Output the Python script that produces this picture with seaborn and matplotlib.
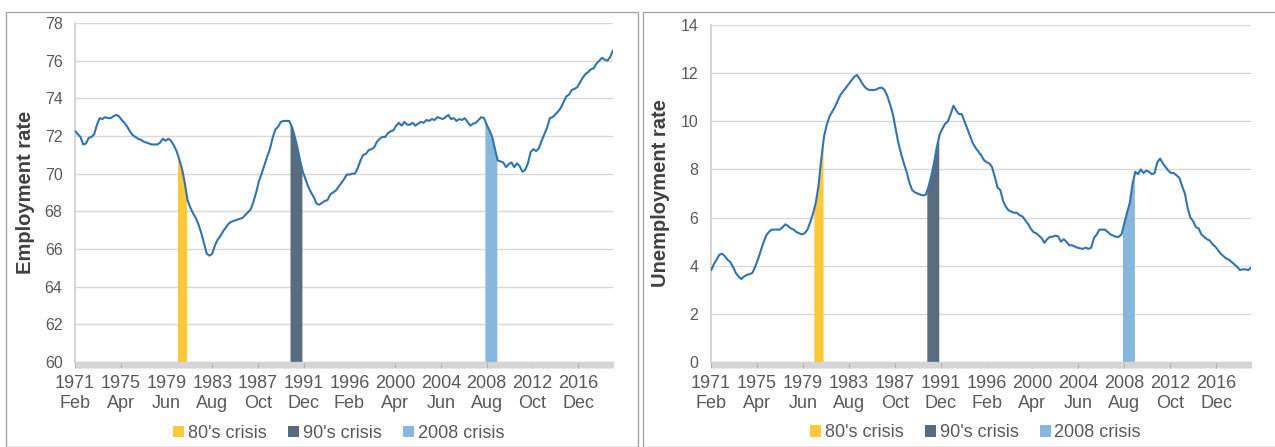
import numpy as np
import pandas as pd
import matplotlib
matplotlib.use('Agg')
import matplotlib.pyplot as plt
from matplotlib.patches import Patch, Rectangle
import seaborn as sns

# quarterly readings (every 3 months starting 1971 Feb)
employment = [
    72.28, 72.1, 71.95, 71.55, 71.6, 71.9, 71.95, 72.1, 72.6, 72.95,
    72.9, 73.0, 72.95, 72.95, 73.05, 73.12, 73.05, 72.85, 72.7, 72.5,
    72.25, 72.05, 71.95, 71.85, 71.8, 71.7, 71.65, 71.6, 71.55, 71.55,
    71.55, 71.65, 71.85, 71.75, 71.85, 71.75, 71.5, 71.2, 70.75, 70.25,
    69.5, 68.6, 68.2, 67.9, 67.65, 67.3, 66.85, 66.3, 65.75, 65.65,
    65.75, 66.2, 66.5, 66.7, 66.95, 67.15, 67.35, 67.45, 67.5, 67.55,
    67.6, 67.65, 67.8, 67.95, 68.1, 68.5, 69.0, 69.6, 70.0, 70.45,
    70.9, 71.3, 71.9, 72.35, 72.5, 72.75, 72.8, 72.8, 72.8, 72.5,
    72.0, 71.4, 70.7, 70.1, 69.7, 69.3, 69.0, 68.75, 68.4, 68.35,
    68.45, 68.55, 68.6, 68.9, 69.0, 69.1, 69.3, 69.5, 69.7, 69.95,
    69.95, 70.0, 70.0, 70.3, 70.7, 71.0, 71.05, 71.25, 71.3, 71.4,
    71.7, 71.85, 71.95, 71.95, 72.15, 72.25, 72.3, 72.55, 72.7, 72.55,
    72.75, 72.6, 72.6, 72.7, 72.55, 72.65, 72.75, 72.7, 72.85, 72.8,
    72.9, 72.85, 73.0, 72.95, 72.9, 73.0, 73.12, 72.9, 72.95, 72.8,
    72.9, 72.85, 72.95, 72.75, 72.55, 72.65, 72.7, 72.85, 73.0, 72.95,
    72.6, 72.3, 71.95, 71.3, 70.7, 70.65, 70.6, 70.35, 70.5, 70.6,
    70.35, 70.55, 70.4, 70.1, 70.2, 70.55, 71.15, 71.3, 71.2, 71.35,
    71.75, 72.1, 72.45, 72.95, 73.0, 73.15, 73.3, 73.5, 73.8, 74.1,
    74.2, 74.45, 74.5, 74.6, 74.85, 75.1, 75.3, 75.4, 75.55, 75.6,
    75.85, 76.0, 76.15, 76.05, 76.0, 76.2, 76.55,
]

unemployment = [
    3.8, 4.05, 4.25, 4.45, 4.5, 4.4, 4.25, 4.15, 3.95, 3.7,
    3.55, 3.45, 3.55, 3.62, 3.65, 3.7, 3.95, 4.25, 4.6, 4.95,
    5.25, 5.4, 5.5, 5.5, 5.5, 5.5, 5.6, 5.72, 5.65, 5.55,
    5.5, 5.4, 5.35, 5.3, 5.35, 5.5, 5.8, 6.15, 6.6, 7.3,
    8.4, 9.35, 9.85, 10.2, 10.4, 10.6, 10.85, 11.1, 11.25, 11.4,
    11.55, 11.7, 11.85, 11.92, 11.75, 11.55, 11.4, 11.32, 11.3, 11.3,
    11.32, 11.38, 11.4, 11.3, 11.05, 10.7, 10.3, 9.7, 9.1, 8.65,
    8.25, 7.9, 7.45, 7.15, 7.05, 7.0, 6.95, 6.92, 6.95, 7.3,
    7.75, 8.3, 8.95, 9.45, 9.7, 9.9, 10.0, 10.3, 10.65, 10.45,
    10.3, 10.3, 10.0, 9.7, 9.4, 9.1, 8.9, 8.75, 8.6, 8.4,
    8.3, 8.25, 8.1, 7.7, 7.25, 7.15, 6.7, 6.45, 6.3, 6.25,
    6.2, 6.2, 6.1, 6.05, 5.9, 5.75, 5.55, 5.4, 5.35, 5.25,
    5.15, 4.95, 5.1, 5.2, 5.2, 5.25, 5.22, 5.0, 5.1, 5.0,
    4.85, 4.85, 4.8, 4.75, 4.72, 4.7, 4.75, 4.7, 4.75, 5.15,
    5.3, 5.5, 5.5, 5.5, 5.4, 5.3, 5.25, 5.2, 5.2, 5.3,
    5.75, 6.2, 6.6, 7.4, 7.9, 7.8, 8.0, 7.85, 7.95, 7.9,
    7.8, 7.85, 8.3, 8.45, 8.25, 8.1, 7.95, 7.85, 7.85, 7.75,
    7.65, 7.3, 7.0, 6.4, 6.0, 5.85, 5.6, 5.55, 5.3, 5.2,
    5.1, 5.05, 4.9, 4.8, 4.65, 4.5, 4.4, 4.3, 4.25, 4.15,
    4.05, 3.95, 3.82, 3.85, 3.85, 3.82, 3.92,
]

# x axis labels every 50 months
tick_years = ['1971', '1975', '1979', '1983', '1987', '1991',
              '1996', '2000', '2004', '2008', '2012', '2016']
tick_months = ['Feb', 'Apr', 'Jun', 'Aug', 'Oct', 'Dec',
               'Feb', 'Apr', 'Jun', 'Aug', 'Oct', 'Dec']

# crisis windows, months since 1971 Feb
crisis_names = ["80's crisis", "90's crisis", "2008 crisis"]
crisis_start = [112, 235, 448]
crisis_end = [122, 248, 461]
crisis_colors = ['#fdc93a', '#596b7e', '#87b7dc']

line_color = '#3274ad'
text_color = '#595959'

sns.set_theme(style='white')
plt.rcParams['font.family'] = ['Liberation Sans', 'DejaVu Sans']

months = np.arange(len(employment)) * 3
df = pd.DataFrame({'month': months, 'Employment rate': employment,
                   'Unemployment rate': unemployment})

fig = plt.figure(figsize=(12.75, 4.47), dpi=100)
W, H = 1275, 447

# panel frames
for x0, x1 in [(6, 638), (643, 1290)]:
    fig.patches.append(Rectangle((x0 / W, 0), (x1 - x0) / W, (H - 12) / H,
                                 transform=fig.transFigure, fill=False,
                                 edgecolor='#a6a6a6', lw=1.0))

panels = [
    ('Employment rate', (75, 613, 23, 362), (60, 78), -0.074),
    ('Unemployment rate', (711, 1251, 25, 362), (0, 14), -0.076),
]

for col, (xl, xr, yt, yb), (ymin, ymax), lab_x in panels:
    ax = fig.add_axes([xl / W, (H - yb) / H, (xr - xl) / W, (yb - yt) / H])
    vals = df[col].to_numpy()
    for name, s, e, c in zip(crisis_names, crisis_start, crisis_end, crisis_colors):
        xs = np.linspace(s, e, 40)
        ax.fill_between(xs, ymin, np.interp(xs, months, vals), color=c, lw=0, zorder=2)
    sns.lineplot(data=df, x='month', y=col, ax=ax, color=line_color, lw=1.5, zorder=3)

    ax.set_xlim(0, 588)
    ax.set_ylim(ymin, ymax)
    ax.set_yticks(np.arange(ymin, ymax + 1, 2))
    ax.yaxis.grid(True, color='#d9d9d9', lw=1.0)
    ax.set_axisbelow(True)
    ax.set_xticks(np.arange(0, 551, 50))
    ax.set_xticklabels([f'{y}\n{m}' for y, m in zip(tick_years, tick_months)],
                       linespacing=1.2)
    ax.set_xticks(np.arange(0, 589, 1), minor=True)
    ax.tick_params(axis='x', which='minor', length=4.5, width=0.7, color='#d4d4d4',
                   direction='out', bottom=True)
    ax.tick_params(axis='x', which='major', length=4.5, width=0.8, color='#b0b0b0',
                   direction='out', bottom=True, pad=5, labelsize=13, labelcolor=text_color)
    ax.tick_params(axis='y', length=0, pad=9, labelsize=11.5, labelcolor=text_color)
    for sp in ['top', 'right']:
        ax.spines[sp].set_visible(False)
    ax.spines['left'].set_color('#d0d0d0')
    ax.spines['bottom'].set_color('#d4d4d4')
    ax.spines['bottom'].set_linewidth(1.0)

    ax.set_xlabel('')
    ax.set_ylabel(col, fontsize=14.5, fontweight='bold', color='#404040')
    ax.yaxis.set_label_coords(lab_x, 0.5)

    handles = [Patch(facecolor=c, edgecolor='none', label=n)
               for n, c in zip(crisis_names, crisis_colors)]
    ax.legend(handles=handles, loc='center', bbox_to_anchor=(0.49, -0.21), ncol=3,
              frameon=False, handlelength=0.6, handleheight=0.6, handletextpad=0.2,
              columnspacing=1.2, prop={'size': 13}, labelcolor=text_color)

fig.savefig('out.png', dpi=100)
